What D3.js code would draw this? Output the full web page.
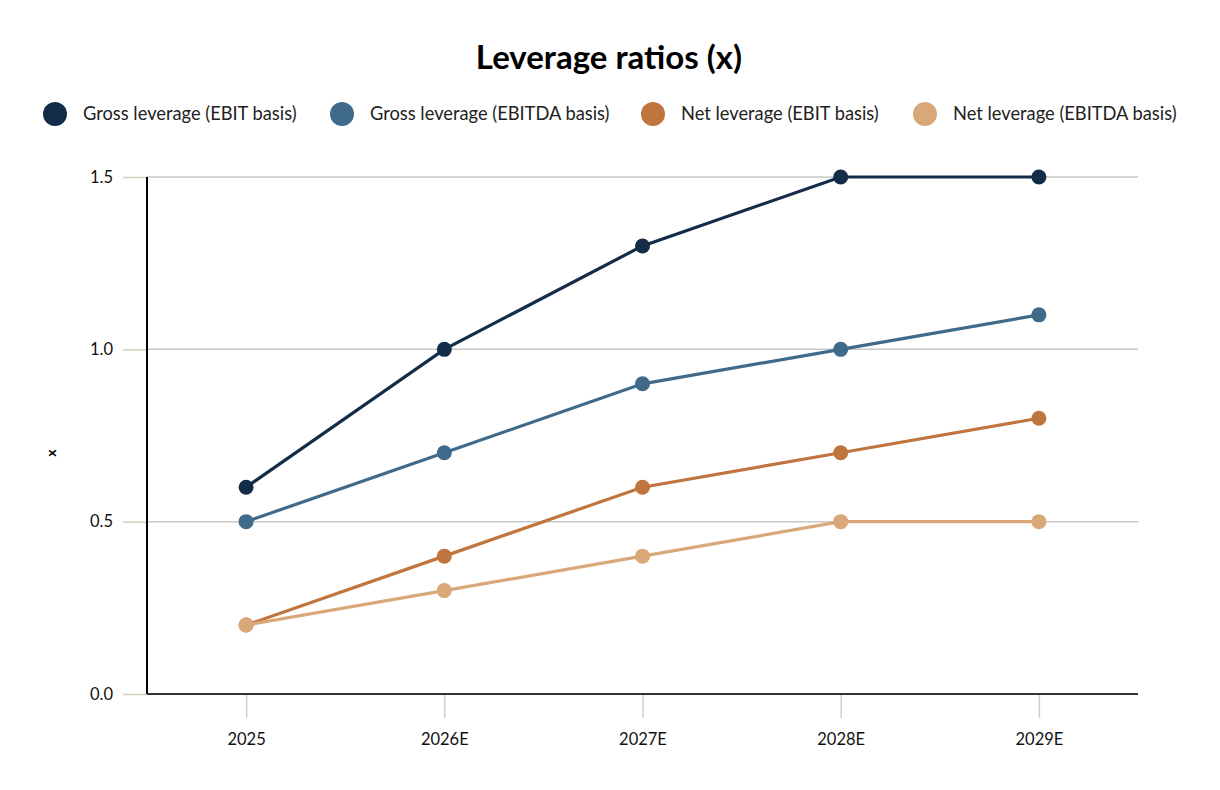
<!DOCTYPE html>
<html>
<head>
<meta charset="utf-8">
<script src="https://cdn.jsdelivr.net/npm/d3@7"></script>
<style>
  body { margin: 0; background: #fff; }
  svg { display: block; font-family: Lato, "Open Sans", sans-serif; }
</style>
</head>
<body>
<script>
var years = ['2025', '2026E', '2027E', '2028E', '2029E'];
var grossEbit = [0.6, 1.0, 1.3, 1.5, 1.5];
var grossEbitda = [0.5, 0.7, 0.9, 1.0, 1.1];
var netEbit = [0.2, 0.4, 0.6, 0.7, 0.8];
var netEbitda = [0.2, 0.3, 0.4, 0.5, 0.5];
var seriesNames = ['Gross leverage (EBIT basis)', 'Gross leverage (EBITDA basis)', 'Net leverage (EBIT basis)', 'Net leverage (EBITDA basis)'];
var yTicks = [0, 0.5, 1.0, 1.5];

var colors = ['#132c48', '#3f6a8a', '#c0743e', '#d9a878'];
var series = [grossEbit, grossEbitda, netEbit, netEbitda];

var width = 1220, height = 790;
var margin = {top: 177, right: 82, bottom: 96, left: 147};

var svg = d3.select('body').append('svg')
    .attr('width', width)
    .attr('height', height);

// title
svg.append('text')
    .attr('x', 609)
    .attr('y', 69)
    .attr('text-anchor', 'middle')
    .style('font-size', '33px')
    .style('font-weight', 'bold')
    .attr('fill', '#000')
    .text('Leverage ratios (x)');

// legend
var legendX = [55, 342, 653, 925];
var legend = svg.append('g');
seriesNames.forEach(function(name, i){
    legend.append('circle')
        .attr('cx', legendX[i])
        .attr('cy', 114)
        .attr('r', 12)
        .attr('fill', colors[i]);
    legend.append('text')
        .attr('x', legendX[i] + 28)
        .attr('y', 120)
        .style('font-size', '18.3px')
        .attr('fill', '#222')
        .text(name);
});

var x = d3.scalePoint()
    .domain(years)
    .range([margin.left, width - margin.right])
    .padding(0.5);

var y = d3.scaleLinear()
    .domain([0, 1.5])
    .range([height - margin.bottom, margin.top]);

// gridlines
svg.append('g')
    .selectAll('line')
    .data(yTicks.filter(function(d){ return d > 0; }))
    .join('line')
    .attr('x1', margin.left)
    .attr('x2', width - margin.right)
    .attr('y1', function(d){ return y(d); })
    .attr('y2', function(d){ return y(d); })
    .attr('stroke', '#c8c8c8')
    .attr('stroke-width', 1.5);

// y axis
var yAxis = svg.append('g')
    .attr('transform', 'translate(' + margin.left + ',0)')
    .call(d3.axisLeft(y).tickValues(yTicks).tickFormat(d3.format('.1f')).tickSize(24).tickPadding(10));
yAxis.select('.domain').remove();
yAxis.selectAll('.tick line').attr('stroke', '#d4cdc0').attr('stroke-width', 1.5);
yAxis.selectAll('.tick text').style('font-size', '16.5px').attr('fill', '#111').style('font-family', 'Lato, sans-serif');

// x axis
var xAxis = svg.append('g')
    .attr('transform', 'translate(0,' + (height - margin.bottom) + ')')
    .call(d3.axisBottom(x).tickSize(24).tickPadding(15));
xAxis.select('.domain').remove();
xAxis.selectAll('.tick line').attr('stroke', '#d4cdc0').attr('stroke-width', 1.5);
xAxis.selectAll('.tick text').style('font-size', '16.5px').attr('fill', '#111').style('font-family', 'Lato, sans-serif');

// axis lines
svg.append('line')
    .attr('x1', margin.left).attr('x2', margin.left)
    .attr('y1', margin.top).attr('y2', height - margin.bottom)
    .attr('stroke', '#000').attr('stroke-width', 2);
svg.append('line')
    .attr('x1', margin.left).attr('x2', width - margin.right)
    .attr('y1', height - margin.bottom).attr('y2', height - margin.bottom)
    .attr('stroke', '#333').attr('stroke-width', 2);

// y title
svg.append('text')
    .attr('transform', 'translate(51,453) rotate(-90)')
    .attr('text-anchor', 'middle')
    .attr('dy', '0.35em')
    .style('font-size', '14px')
    .style('font-weight', 'bold')
    .text('x');

// lines + points
var line = d3.line()
    .x(function(d, i){ return x(years[i]); })
    .y(function(d){ return y(d); });

series.forEach(function(vals, s){
    var g = svg.append('g');
    g.append('path')
        .datum(vals)
        .attr('d', line)
        .attr('fill', 'none')
        .attr('stroke', colors[s])
        .attr('stroke-width', 3.2);
    g.selectAll('circle')
        .data(vals)
        .join('circle')
        .attr('cx', function(d, i){ return x(years[i]); })
        .attr('cy', function(d){ return y(d); })
        .attr('r', 7.5)
        .attr('fill', colors[s]);
});
</script>
</body>
</html>
